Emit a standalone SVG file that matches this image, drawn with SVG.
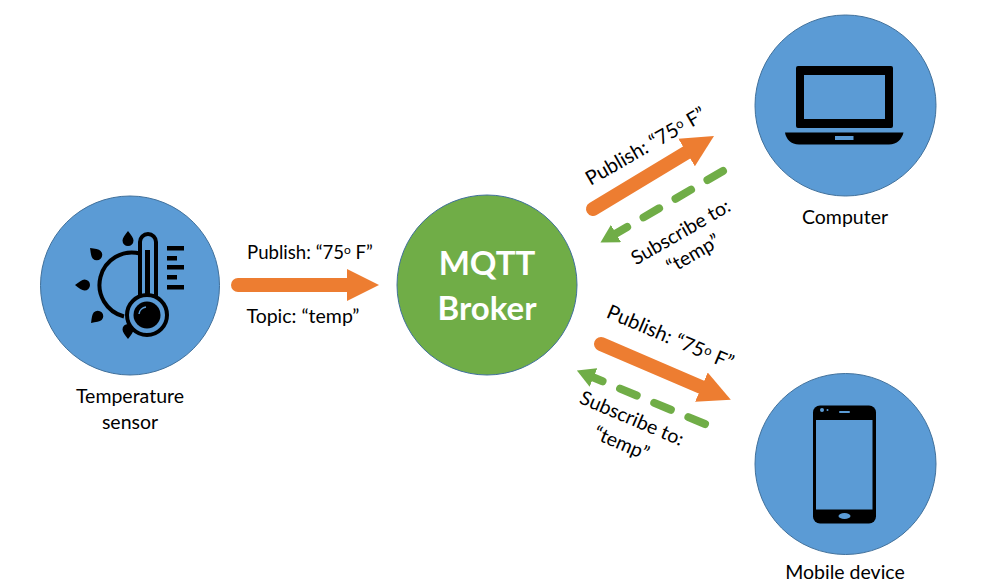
<svg xmlns="http://www.w3.org/2000/svg" width="991" height="588" viewBox="0 0 991 588">
<style>
text{font-family:Lato,"Liberation Sans",sans-serif;font-size:19.500px;fill:#000;text-anchor:middle}
.big{font-size:33px;font-weight:700;fill:#fff}
.flat{font-size:18.600px}
.tilt{font-size:20px}
.node{fill:#5b9bd5;stroke:#41719c;stroke-width:1}
.broker{fill:#70ad47;stroke:#41719c;stroke-width:1}
.pub{fill:none;stroke:#ed7d31;stroke-width:14;stroke-linecap:round}
.sub{fill:none;stroke:#70ad47;stroke-width:8;stroke-linecap:round;stroke-dasharray:18 19}
.ink{fill:#000;stroke:none}
.line{fill:none;stroke:#000;stroke-width:4}
</style>
<defs>
<marker id="headPub" markerUnits="userSpaceOnUse" markerWidth="32" markerHeight="34" refX="0" refY="17" orient="auto"><path d="M0 1L32 17L0 33Z" fill="#ed7d31"/></marker>
<marker id="headSub" markerUnits="userSpaceOnUse" markerWidth="18" markerHeight="20" refX="0" refY="10" orient="auto"><path d="M0 0L18 10L0 20Z" fill="#70ad47"/></marker>
<path id="ray" d="M0-7C3-3 5.500 0 5.500 2.500A5.500 5.500 0 0 1-5.500 2.500C-5.500 0-3-3 0-7Z"/>
</defs>
<g id="connectors">
<path class="pub" d="M238 285H347" marker-end="url(#headPub)"/>
<path class="pub" d="M593 209L686.600 152.500" marker-end="url(#headPub)"/>
<path class="sub" d="M723 171L616 233.500" marker-end="url(#headSub)"/>
<path class="pub" d="M601 344L701.400 387.100" marker-end="url(#headPub)"/>
<path class="sub" d="M705 424L593.500 377.500" marker-end="url(#headSub)"/>
</g>
<g id="sensor">
<circle class="node" cx="130" cy="285.500" r="89.500"/>
<path class="line" d="M140 253.500A32 32 0 1 0 124 316.500"/>
<use href="#ray" class="ink" transform="translate(128 238)"/>
<use href="#ray" class="ink" transform="translate(95 253) rotate(-45)"/>
<use href="#ray" class="ink" transform="translate(82 285) rotate(-90)"/>
<use href="#ray" class="ink" transform="translate(96 318) rotate(-135)"/>
<use href="#ray" class="ink" transform="translate(128 332) rotate(180)"/>
<path d="M140 297V242A8 8 0 0 1 156 242V297" fill="#5b9bd5" stroke="#000" stroke-width="4"/>
<rect class="ink" x="145" y="250" width="5" height="50"/>
<circle cx="147" cy="315" r="20" fill="#5b9bd5" stroke="#000" stroke-width="4"/>
<circle class="ink" cx="147" cy="315" r="13.500"/>
<path d="M139 314A8 8 0 0 1 146 307" fill="none" stroke="#5b9bd5" stroke-width="1.500"/>
<path class="ink" d="M167 246H184V250.500H167ZM167 256H177V260.500H167ZM167 265H184V269.500H167ZM167 275H177V279.500H167ZM167 285H184V289.500H167Z"/>
<text x="130" y="403">Temperature</text>
<text x="130" y="429">sensor</text>
</g>
<g id="broker">
<circle class="broker" cx="487" cy="285" r="90"/>
<text class="big" x="487" y="275">MQTT</text>
<text class="big" x="487" y="320">Broker</text>
</g>
<g id="computer">
<circle class="node" cx="845.500" cy="105.500" r="90.500"/>
<path class="ink" fill-rule="evenodd" d="M798 66H891A2 2 0 0 1 893 68V126A2 2 0 0 1 891 128H798A2 2 0 0 1 796 126V68A2 2 0 0 1 798 66ZM804 75V119H885V75Z"/>
<path class="ink" fill-rule="evenodd" d="M785 132.500H903.500C902 139 897 144.500 889 144.500H799C791 144.500 786 139 785 132.500ZM835 136V140H853.500V136Z"/>
<text x="845" y="224">Computer</text>
</g>
<g id="mobile">
<circle class="node" cx="845.500" cy="464" r="90.500"/>
<rect class="ink" x="813" y="405.500" width="63" height="118" rx="7"/>
<rect x="816" y="420" width="56.500" height="89.500" fill="#5b9bd5"/>
<ellipse cx="844.500" cy="516" rx="6" ry="3" fill="#5b9bd5"/>
<rect x="839" y="411" width="11" height="2" rx="1" fill="#5b9bd5"/>
<circle cx="822" cy="410" r="2" fill="#5b9bd5"/>
<circle cx="827.500" cy="410" r="1" fill="#5b9bd5"/>
<text x="845" y="579">Mobile device</text>
</g>
<g id="labels">
<text class="flat" x="310" y="259">Publish: “75<tspan font-size="12" dy="-5">o</tspan><tspan dy="5"> F”</tspan></text>
<text x="303" y="323">Topic: “temp”</text>
<text class="tilt" transform="translate(646 147) rotate(-30)" y="6">Publish: “75<tspan font-size="13" dy="-5">o</tspan><tspan dy="5"> F”</tspan></text>
<g transform="translate(687 243) rotate(-30)"><text y="-6">Subscribe to:</text><text y="19">“temp”</text></g>
<text class="tilt" transform="translate(670 338) rotate(23)" y="6">Publish: “75<tspan font-size="13" dy="-5">o</tspan><tspan dy="5"> F”</tspan></text>
<g transform="translate(627 430) rotate(23)"><text y="-6">Subscribe to:</text><text y="21">“temp”</text></g>
</g>
</svg>
